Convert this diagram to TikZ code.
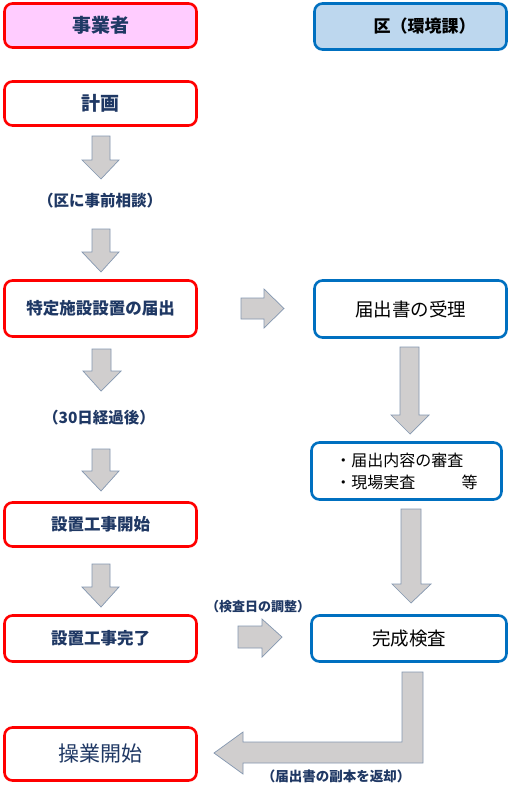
\documentclass[tikz,border=0pt]{standalone}
\usepackage{fontspec}
\setmainfont{Noto Sans CJK JP}
\begin{document}
\begin{tikzpicture}[x=1pt,y=-1pt,
  lbox/.style={draw=red,line width=2.6pt,rounded corners=8pt,fill=white,minimum width=192pt,inner sep=0pt,text=navy},
  rbox/.style={draw=rblue,line width=2.6pt,rounded corners=8pt,fill=white,minimum width=192pt,inner sep=0pt,text=black},
  garrow/.style={draw=agray,fill=afill,line width=0.7pt,line join=miter},
  lbl/.style={text=navy,font=\bfseries\fontsize{13}{15}\selectfont,inner sep=0pt}
]
\definecolor{navy}{HTML}{1F3864}
\definecolor{rblue}{HTML}{0070C0}
\definecolor{agray}{HTML}{8497B0}
\definecolor{afill}{HTML}{D0CECE}
\definecolor{pinkf}{HTML}{FFCCFF}
\definecolor{bluef}{HTML}{BDD7EE}
\useasboundingbox[fill=white] (0,0) rectangle (510,800);

% left column
\node[lbox,fill=pinkf,minimum height=44pt,font=\bfseries\fontsize{19}{22}\selectfont] (jig) at (100.5,25.5) {事業者};
\node[lbox,minimum height=44pt,font=\bfseries\fontsize{19}{22}\selectfont] (kei) at (100.5,103.5) {計画};
\node[lbl,font=\bfseries\fontsize{15.5}{18}\selectfont] (sod) at (100,201) {（区に事前相談）};
\node[lbox,minimum height=56pt,font=\bfseries\fontsize{16.5}{19}\selectfont] (tok) at (100.5,308.5) {特定施設設置の届出};
\node[lbl,font=\bfseries\fontsize{15.5}{18}\selectfont] (nic) at (99,418) {（30日経過後）};
\node[lbox,minimum height=44pt,font=\bfseries\fontsize{16.5}{19}\selectfont] (kai) at (100.5,524.5) {設置工事開始};
\node[lbox,minimum height=46pt,font=\bfseries\fontsize{16.5}{19}\selectfont] (kan) at (100.5,638.5) {設置工事完了};
\node[lbox,minimum height=53pt,font=\fontsize{21}{25}\selectfont] (sog) at (100.5,754) {操業開始};

% right column
\node[rbox,fill=bluef,minimum height=46pt,font=\bfseries\fontsize{17}{20}\selectfont] (ku) at (410.5,26.5) {\hspace*{28pt}区（環境課）};
\node[rbox,minimum height=57pt,font=\fontsize{18.5}{22}\selectfont] (jur) at (410.5,309) {届出書の受理};
\node[rbox,minimum width=190pt,minimum height=57pt,font=\fontsize{16}{22}\selectfont,align=left] (shin) at (406.5,471) {・届出内容の審査\\・現場実査\hspace{2.9em}等};
\node[rbox,minimum width=195pt,minimum height=46pt,font=\fontsize{18.5}{22}\selectfont] (kns) at (409,638.5) {完成検査};

% labels
\node[lbl] (cho) at (258,607) {（検査日の調整）};
\node[lbl,font=\bfseries\fontsize{13.5}{15}\selectfont] (hen) at (336,776) {（届出書の副本を返却）};

% down arrows left
\draw[garrow] (92,136) -- (110,136) -- (110,160) -- (119,160) -- (101,179) -- (82,160) -- (92,160) -- cycle;
\draw[garrow] (92,229) -- (110,229) -- (110,252) -- (119,252) -- (101,272) -- (82,252) -- (92,252) -- cycle;
\draw[garrow] (92,349) -- (111,349) -- (111,371) -- (121,371) -- (101,391) -- (83,371) -- (92,371) -- cycle;
\draw[garrow] (92,449) -- (110,449) -- (110,471) -- (119,471) -- (101,491) -- (82,471) -- (92,471) -- cycle;
\draw[garrow] (92,564) -- (110,564) -- (110,587) -- (119,587) -- (101,607) -- (82,587) -- (92,587) -- cycle;

% right arrows
\draw[garrow] (241,298) -- (264,298) -- (264,289) -- (284,308.5) -- (264,328) -- (264,319) -- (241,319) -- cycle;
\draw[garrow] (238,626) -- (262,626) -- (262,619) -- (282,637) -- (262,657) -- (262,648) -- (238,648) -- cycle;

% down arrows right
\draw[garrow] (400,347) -- (419,347) -- (419,415) -- (429,415) -- (410,434) -- (391,415) -- (400,415) -- cycle;
\draw[garrow] (401,509) -- (421,509) -- (421,584) -- (431,584) -- (411,603) -- (392,584) -- (401,584) -- cycle;

% L arrow
\draw[garrow] (402,672) -- (423,672) -- (423,763) -- (243,763) -- (243,774) -- (214,753) -- (243,732) -- (243,742) -- (402,742) -- cycle;
\end{tikzpicture}
\end{document}
